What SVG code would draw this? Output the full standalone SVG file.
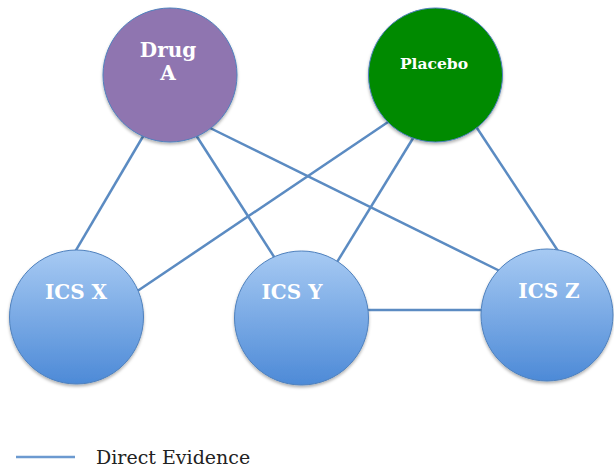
<svg xmlns="http://www.w3.org/2000/svg" width="614" height="468" viewBox="0 0 614 468">
<style>
.edge{stroke:#5b8bc2;stroke-width:2.5;fill:none}
.node{stroke:#4f81bd;stroke-width:1}
.lbl{font-family:"DejaVu Serif","Liberation Serif",serif;font-weight:bold;fill:#ffffff;text-anchor:middle}
.legend{font-family:"DejaVu Serif","Liberation Serif",serif;font-size:19px;fill:#222222}
</style>
<defs>
<linearGradient id="ics" x1="0" y1="0" x2="0" y2="1">
<stop offset="0" stop-color="#a7caf3"/>
<stop offset="1" stop-color="#4d8ad7"/>
</linearGradient>
<filter id="sh" x="-20%" y="-20%" width="140%" height="150%">
<feDropShadow dx="0" dy="2" stdDeviation="1.5" flood-color="#000000" flood-opacity="0.3"/>
</filter>
</defs>
<rect width="614" height="468" fill="#ffffff"/>
<g id="connectors">
<line class="edge" x1="145" y1="133" x2="72" y2="257"/>
<line class="edge" x1="194" y1="132" x2="278" y2="263"/>
<line class="edge" x1="206" y1="126" x2="508" y2="275"/>
<line class="edge" x1="391" y1="120" x2="133" y2="294"/>
<line class="edge" x1="415" y1="135" x2="334" y2="267"/>
<line class="edge" x1="475" y1="125" x2="562" y2="257"/>
<line class="edge" x1="360" y1="310" x2="492" y2="310"/>
</g>
<g id="drugA">
<circle class="node" cx="170" cy="75" r="67" fill="#8f74b0" filter="url(#sh)"/>
<text class="lbl" x="168" y="57" font-size="20">Drug</text>
<text class="lbl" x="168" y="80" font-size="20">A</text>
</g>
<g id="placebo">
<circle class="node" cx="435.5" cy="75" r="67" fill="#018a01" filter="url(#sh)"/>
<text class="lbl" x="434" y="69" font-size="15.5">Placebo</text>
</g>
<g id="icsX">
<circle class="node" cx="76.5" cy="317" r="67" fill="url(#ics)" filter="url(#sh)"/>
<text class="lbl" x="76" y="299" font-size="20">ICS X</text>
</g>
<g id="icsY">
<circle class="node" cx="301.5" cy="318" r="67" fill="url(#ics)" filter="url(#sh)"/>
<text class="lbl" x="292" y="299" font-size="20">ICS Y</text>
</g>
<g id="icsZ">
<circle class="node" cx="547" cy="315" r="66" fill="url(#ics)" filter="url(#sh)"/>
<text class="lbl" x="549" y="298" font-size="20">ICS Z</text>
</g>
<g id="legend">
<line x1="16" y1="457" x2="75" y2="457" stroke="#6c9ad0" stroke-width="2.5"/>
<text class="legend" x="96" y="464">Direct Evidence</text>
</g>
</svg>
